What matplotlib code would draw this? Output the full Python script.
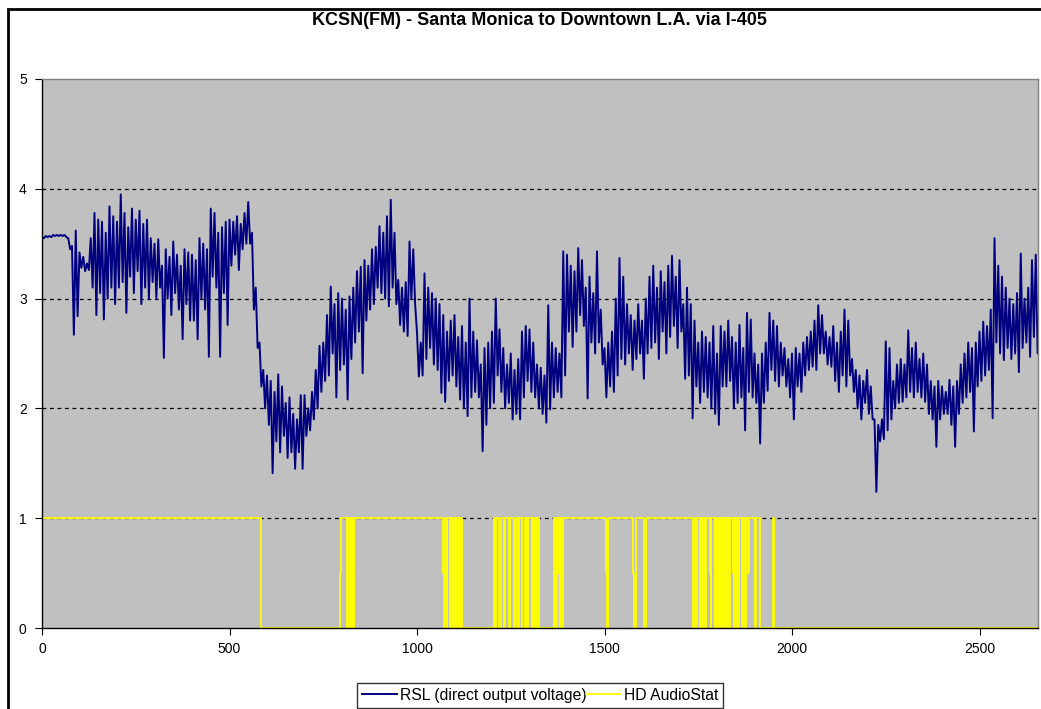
import matplotlib
matplotlib.use("Agg")
import matplotlib.pyplot as plt
from matplotlib.patches import Rectangle

plt.rcParams['font.family'] = ['Liberation Sans', 'DejaVu Sans']

# RSL envelope per 10-unit bin (high / low value seen in each bin)
rsl_hi = [
    3.56, 3.57, 3.57, 3.58, 3.58, 3.58, 3.58, 3.55, 3.48, 3.62,
    3.42, 3.38, 3.32, 3.55, 3.78, 3.72, 3.70, 3.60, 3.84, 3.75,
    3.70, 3.95, 3.78, 3.65, 3.82, 3.72, 3.80, 3.68, 3.72, 3.55,
    3.50, 3.54, 3.30, 3.45, 3.38, 3.52, 3.40, 3.30, 3.45, 3.42,
    3.40, 3.35, 3.55, 3.50, 3.45, 3.82, 3.78, 3.60, 3.65, 3.70,
    3.72, 3.70, 3.75, 3.68, 3.78, 3.88, 3.60, 3.10, 2.60, 2.35,
    2.30, 2.25, 2.15, 2.31, 2.20, 2.05, 2.10, 1.95, 1.90, 2.12,
    2.12, 2.00, 2.15, 2.35, 2.57, 2.60, 2.85, 3.11, 2.95, 3.05,
    3.00, 2.90, 3.02, 3.10, 3.25, 3.29, 3.35, 3.30, 3.45, 3.47,
    3.66, 3.60, 3.75, 3.90, 3.60, 3.17, 3.10, 3.15, 3.52, 3.45,
    2.69, 2.60, 3.23, 3.10, 3.05, 3.00, 2.95, 2.85, 2.70, 2.80,
    2.85, 2.65, 2.75, 2.60, 3.00, 2.70, 2.62, 2.40, 2.55, 2.60,
    2.70, 3.00, 2.72, 2.55, 2.40, 2.50, 2.35, 2.45, 2.70, 2.75,
    2.72, 2.60, 2.40, 2.37, 2.30, 2.94, 2.60, 2.55, 2.50, 3.43,
    3.40, 3.30, 3.25, 3.46, 3.35, 3.10, 3.20, 3.05, 3.43, 2.90,
    2.55, 2.60, 2.70, 3.00, 3.37, 3.20, 2.95, 2.85, 2.80, 2.95,
    2.80, 3.00, 3.20, 3.30, 3.10, 3.25, 3.15, 3.30, 3.39, 3.20,
    3.35, 2.95, 3.10, 2.95, 2.80, 2.60, 2.70, 2.65, 2.60, 2.75,
    2.50, 2.75, 2.70, 2.80, 2.65, 2.60, 2.76, 2.55, 2.87, 2.81,
    2.50, 2.40, 2.50, 2.60, 2.87, 2.80, 2.75, 2.60, 2.55, 2.45,
    2.50, 2.55, 2.50, 2.60, 2.65, 2.70, 2.80, 2.94, 2.85, 2.70,
    2.65, 2.75, 2.60, 2.70, 2.90, 2.80, 2.45, 2.35, 2.30, 2.25,
    2.35, 2.20, 1.90, 1.85, 1.90, 2.61, 2.55, 2.25, 2.40, 2.45,
    2.40, 2.71, 2.55, 2.60, 2.45, 2.50, 2.40, 2.25, 2.20, 2.25,
    2.20, 2.15, 2.26, 2.20, 2.25, 2.40, 2.50, 2.60, 2.55, 2.60,
    2.70, 2.79, 2.75, 2.90, 3.55, 3.30, 3.20, 3.10, 3.00, 2.95,
    3.05, 3.41, 3.00, 3.10, 3.35, 3.40, 2.90,
]
rsl_lo = [
    3.55, 3.56, 3.56, 3.57, 3.57, 3.57, 3.56, 3.45, 2.67, 2.84,
    3.28, 3.25, 3.26, 3.10, 2.85, 3.05, 2.81, 3.00, 3.10, 2.95,
    3.10, 3.15, 2.87, 3.20, 3.05, 3.25, 2.95, 3.10, 3.00, 3.15,
    3.00, 3.10, 2.46, 3.00, 2.85, 3.05, 2.90, 2.63, 2.95, 2.80,
    2.80, 2.63, 3.00, 2.90, 2.47, 3.20, 3.10, 2.47, 3.05, 2.76,
    3.30, 3.40, 3.26, 3.45, 3.50, 3.50, 2.90, 2.55, 2.20, 2.00,
    1.85, 1.41, 1.70, 1.60, 1.75, 1.55, 1.60, 1.45, 1.60, 1.45,
    1.75, 1.80, 1.90, 2.00, 2.15, 2.25, 2.30, 2.50, 2.10, 2.35,
    2.40, 2.08, 2.45, 2.60, 2.70, 2.32, 2.80, 2.90, 2.95, 3.10,
    3.05, 3.00, 2.93, 3.10, 2.95, 2.76, 2.70, 2.66, 3.00, 2.95,
    2.29, 2.30, 2.45, 2.55, 2.40, 2.35, 2.14, 2.06, 2.25, 2.30,
    2.20, 2.08, 2.00, 1.93, 2.10, 2.15, 2.10, 1.61, 1.85, 2.00,
    2.05, 2.30, 2.15, 2.00, 2.05, 1.90, 1.95, 1.90, 2.10, 2.25,
    2.15, 2.10, 2.00, 1.95, 1.87, 1.99, 2.10, 2.15, 2.10, 2.30,
    2.70, 2.56, 2.70, 2.85, 2.75, 2.09, 2.60, 2.50, 2.60, 2.40,
    2.10, 2.20, 2.15, 2.30, 2.45, 2.40, 2.50, 2.35, 2.45, 2.50,
    2.27, 2.50, 2.55, 2.60, 2.45, 2.70, 2.50, 2.65, 2.75, 2.55,
    2.70, 2.27, 2.30, 1.91, 2.20, 2.05, 2.15, 2.10, 2.00, 1.95,
    1.85, 2.20, 2.20, 2.25, 2.00, 2.05, 2.10, 1.80, 2.15, 2.10,
    2.05, 1.68, 2.05, 2.16, 2.35, 2.25, 2.20, 2.30, 2.20, 2.10,
    1.90, 2.20, 2.15, 2.30, 2.35, 2.38, 2.35, 2.50, 2.50, 2.40,
    2.38, 2.25, 2.15, 2.30, 2.20, 2.30, 2.15, 2.00, 1.90, 2.05,
    1.95, 1.90, 1.24, 1.70, 1.72, 1.80, 1.90, 2.00, 2.05, 2.06,
    2.10, 2.15, 2.10, 2.15, 2.10, 2.06, 1.95, 1.90, 1.65, 1.90,
    1.95, 1.95, 1.85, 1.65, 1.95, 2.05, 2.10, 2.15, 1.79, 2.20,
    2.25, 2.30, 2.35, 1.91, 2.60, 2.50, 2.44, 2.55, 2.45, 2.50,
    2.33, 2.55, 2.60, 2.47, 2.65, 2.50, 2.84,
]
bin_width = 10

# HD AudioStat: value holds from each x until the next one
hd_x = [0, 583, 795, 797,
        814, 816, 820, 822, 825, 827, 828, 830, 831, 833,
        1070, 1072, 1074, 1079, 1081, 1088, 1090, 1097, 1099, 1103, 1105,
        1107, 1108, 1110, 1111, 1113, 1114, 1116, 1117, 1119,
        1205, 1209, 1211, 1219, 1223, 1232, 1235, 1244, 1248, 1258, 1263,
        1270, 1272, 1279, 1281, 1288, 1290, 1294, 1296, 1306, 1307, 1309,
        1310, 1312, 1313, 1315, 1316, 1318, 1319, 1321, 1322, 1324,
        1364, 1366, 1367, 1369, 1370, 1372, 1377, 1379, 1380, 1382, 1383,
        1385, 1386, 1388,
        1504, 1506, 1508, 1577, 1579, 1583, 1606, 1611,
        1735, 1737, 1741, 1744, 1746, 1755, 1757, 1760, 1762, 1768, 1770,
        1781, 1783, 1785, 1794, 1795, 1797, 1798, 1800, 1801, 1803, 1804,
        1806, 1807, 1809, 1810, 1812, 1813, 1815, 1816, 1818, 1819, 1821,
        1822, 1826, 1828, 1833, 1835, 1843, 1845, 1846, 1848, 1849, 1851,
        1852, 1854, 1855, 1857, 1858, 1866, 1868, 1875, 1877, 1882, 1884,
        1902, 1904, 1915, 1950, 1953, 2660]
hd_y = [1, 0, 0.5, 1,
        0, 1, 0, 1, 0, 1, 0, 1, 0, 1,
        0.5, 0, 1, 0, 1, 0, 1, 0, 1, 0, 1,
        0, 1, 0, 1, 0, 1, 0, 1, 0,
        1, 0, 1, 0, 1, 0, 1, 0, 1, 0, 1,
        0, 1, 0, 1, 0, 1, 0, 1, 0, 1, 0,
        1, 0, 1, 0, 1, 0, 1, 0, 1, 0,
        0.5, 1, 0, 1, 0, 1, 0.5, 1, 0, 1, 0,
        1, 0, 1,
        0.5, 0, 1, 0.5, 0, 1, 0, 1,
        0.5, 0, 1, 0, 1, 0, 1, 0, 1, 0, 1,
        0.5, 0, 1, 0, 1, 0, 1, 0, 1, 0, 1,
        0, 1, 0, 1, 0, 1, 0, 1, 0, 1, 0,
        1, 0, 1, 0, 1, 0.5, 0, 1, 0, 1, 0,
        1, 0, 1, 0, 1, 0, 1, 0, 1, 0.5, 1,
        0, 1, 0, 1, 0, 0]

title = "KCSN(FM) - Santa Monica to Downtown L.A. via I-405"

rsl_x, rsl_y = [], []
for i in range(len(rsl_hi)):
    rsl_x += [i * bin_width, i * bin_width + bin_width / 2]
    rsl_y += [rsl_hi[i], rsl_lo[i]]

fig = plt.figure(figsize=(10.41, 7.09), dpi=100)
ax = fig.add_axes([42 / 1041, 81 / 709, 996 / 1041, 549 / 709])
ax.set_facecolor('#C0C0C0')

ax.plot(rsl_x, rsl_y, color='#000080', linewidth=1.4, label='RSL (direct output voltage)')
ax.plot(hd_x, hd_y, color='#FFFF00', linewidth=1.3, drawstyle='steps-post', label='HD AudioStat')

ax.set_xlim(0, 2656)
ax.set_ylim(0, 5)
ax.set_xticks(range(0, 2501, 500))
ax.set_yticks(range(0, 6))
for v in range(1, 5):
    ax.axhline(v, color='black', linestyle=(0, (3, 3)), linewidth=0.9, zorder=1.5)

ax.tick_params(axis='both', direction='out', length=5, width=0.8, labelsize=10, colors='black')
ax.tick_params(axis='y', pad=6)
ax.tick_params(axis='x', pad=5)
for s in ['left', 'bottom']:
    ax.spines[s].set_color('black')
    ax.spines[s].set_linewidth(1.0)
for s in ['top', 'right']:
    ax.spines[s].set_color('#808080')
    ax.spines[s].set_linewidth(1.0)

fig.text(0.518, 0.971, title, ha='center', va='center', fontsize=13, fontweight='bold')

leg = fig.legend(loc='lower center', bbox_to_anchor=(0.519, 0.002), ncol=2, fontsize=11.3,
                 frameon=True, fancybox=False, edgecolor='black', handlelength=2.2,
                 handletextpad=0.2, columnspacing=0.0, borderpad=0.3, borderaxespad=0)
leg.get_frame().set_linewidth(1.0)

# outer chart frame (only left and top edges are inside the picture)
fig.patches.append(Rectangle((8 / 1041, -0.05), 1.2, 0.05 + 700 / 709, transform=fig.transFigure,
                             fill=False, edgecolor='black', linewidth=2, clip_on=False))

fig.savefig('out.png', dpi=100)
